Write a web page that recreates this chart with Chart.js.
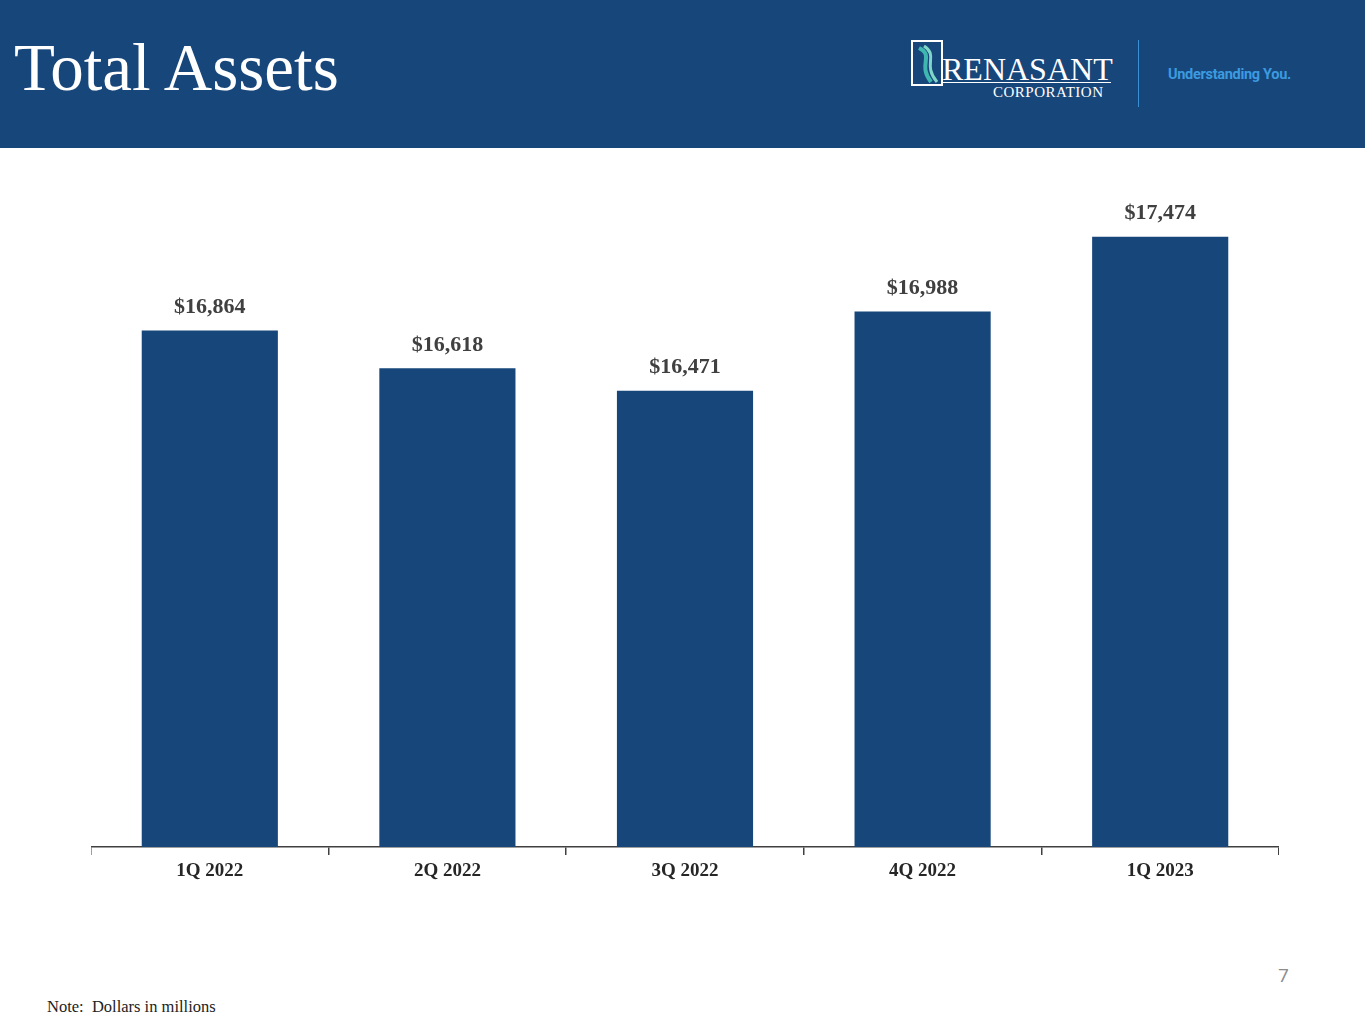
<!DOCTYPE html>
<html>
<head>
<meta charset="utf-8">
<script src="https://cdn.jsdelivr.net/npm/chart.js@4.4.1/dist/chart.umd.min.js"></script>
<style>
  body { margin: 0; width: 1365px; height: 1024px; background: #fff; position: relative; overflow: hidden; }
  .header { position: absolute; left: 0; top: 0; width: 1365px; height: 148px; background: #17467b; }
  .title { position: absolute; left: 14px; top: 34px; font-family: "Liberation Serif", "DejaVu Serif", serif; font-size: 67px; color: #fff; line-height: 1; }
  .logo-box { position: absolute; left: 911px; top: 40px; width: 28px; height: 42px; border: 2px solid #fff; }
  .logo-name { position: absolute; left: 942px; top: 53px; font-family: "Liberation Serif", serif; font-size: 32px; color: #fff; line-height: 1; letter-spacing: 0px; }
  .logo-rule { position: absolute; left: 941px; top: 82px; width: 170px; height: 1px; background: #fff; }
  .logo-corp { position: absolute; left: 993px; top: 84px; font-family: "Liberation Serif", serif; font-size: 15px; color: #fff; letter-spacing: 0.5px; }
  .divider { position: absolute; left: 1138px; top: 40px; width: 1px; height: 67px; background: #3b8fd0; }
  .tagline { position: absolute; left: 1168px; top: 66px; font-family: "Roboto", "Liberation Sans", sans-serif; font-weight: bold; font-size: 14.5px; color: #3c9be0; letter-spacing: -0.3px; }
  #wrap { position: absolute; left: 91px; top: 156px; width: 1188px; height: 741px; }
  .page { position: absolute; left: 1278px; top: 962px; font-family: "Open Sans", "Liberation Sans", sans-serif; font-size: 19px; color: #8c8c8c; }
  .note { position: absolute; left: 47px; top: 997px; font-family: "Liberation Serif", serif; font-size: 16.5px; color: #222; }
</style>
</head>
<body>
<div class="header">
  <div class="title">Total Assets</div>
  <svg class="logo-box" viewBox="0 0 28 42" style="overflow:hidden">
    <path d="M6 6 C22 14, 4 22, 18 40" stroke="#3fb7b0" stroke-width="4" fill="none"/>
    <path d="M11 4 C26 14, 9 22, 24 40" stroke="#7fd6c8" stroke-width="3" fill="none"/>
  </svg>
  <div class="logo-name">RENASANT</div>
  <div class="logo-rule"></div>
  <div class="logo-corp">CORPORATION</div>
  <div class="divider"></div>
  <div class="tagline">Understanding You.</div>
</div>
<div id="wrap"><canvas id="myChart"></canvas></div>
<div class="page">7</div>
<div class="note">Note:&nbsp; Dollars in millions</div>
<script>
var quarters = ['1Q 2022', '2Q 2022', '3Q 2022', '4Q 2022', '1Q 2023'];
var totalAssets = [16864, 16618, 16471, 16988, 17474];
var yMin = 13500;
var yMax = 18000;

// dollar labels over each bar
var valueLabels = {
  id: 'valueLabels',
  afterDatasetsDraw: function(chart) {
    var ctx = chart.ctx;
    var meta = chart.getDatasetMeta(0);
    ctx.save();
    ctx.font = 'bold 22px "Liberation Serif", serif';
    ctx.fillStyle = '#404040';
    ctx.textAlign = 'center';
    ctx.textBaseline = 'bottom';
    meta.data.forEach(function(bar, i) {
      ctx.fillText('$' + totalAssets[i].toLocaleString('en-US'), bar.x, bar.y - 12);
    });
    ctx.restore();
  }
};

var ctx = document.getElementById('myChart').getContext('2d');
var chart = new Chart(ctx, {
  type: 'bar',
  data: {
    labels: quarters,
    datasets: [{
      data: totalAssets,
      backgroundColor: '#17467b',
      categoryPercentage: 1,
      barPercentage: 0.573
    }]
  },
  options: {
    responsive: true,
    maintainAspectRatio: false,
    animation: false,
    layout: { padding: 0 },
    plugins: { legend: { display: false }, tooltip: { enabled: false } },
    scales: {
      x: {
        grid: { offset: true, drawOnChartArea: false, drawTicks: true, tickLength: 8, color: '#404040', lineWidth: 1.5 },
        border: { display: true, color: '#404040', width: 1.5 },
        ticks: { color: '#262626', padding: 5, font: { family: '"Liberation Serif", serif', size: 19, weight: 'bold' } },
        afterFit: function(scale) { scale.height = 50; }
      },
      y: {
        display: false,
        min: yMin,
        max: yMax
      }
    }
  },
  plugins: [valueLabels]
});
</script>
</body>
</html>
